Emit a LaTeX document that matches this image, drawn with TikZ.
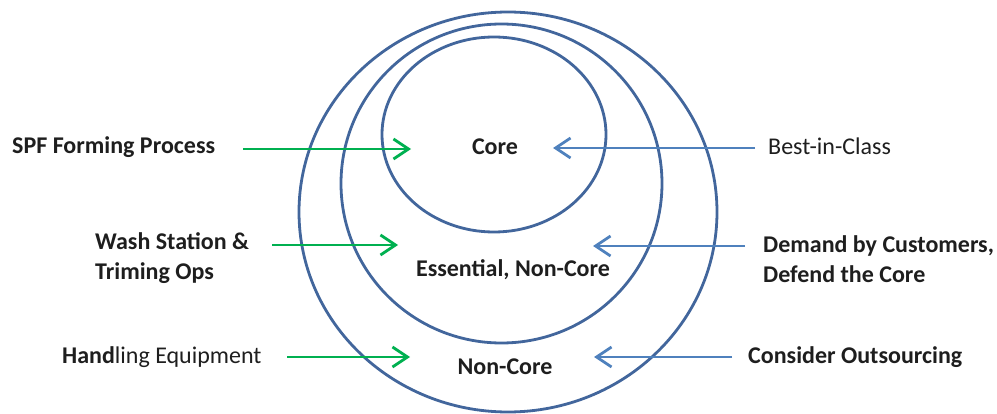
\documentclass[tikz,border=0pt]{standalone}
\usepackage{fontspec}
\setmainfont{Carlito}
\usetikzlibrary{arrows.meta}
\definecolor{ringblue}{RGB}{66,102,156}
\definecolor{pushgreen}{RGB}{0,176,80}
\definecolor{pullblue}{RGB}{79,129,189}
\definecolor{txt}{RGB}{30,30,30}
\tikzset{
  ring/.style={draw=ringblue, line width=2.8pt},
  lbl/.style={font=\fontsize{24}{30}\selectfont\bfseries, text=txt, inner sep=0pt},
  lblr/.style={font=\fontsize{24}{30}\selectfont, text=txt, inner sep=0pt},
  push/.style={draw=pushgreen, line width=2.8pt, -{Straight Barb[length=15pt,width=20pt,line width=2.8pt]}},
  pull/.style={draw=pullblue, line width=2.8pt, -{Straight Barb[length=15pt,width=20pt,line width=2.8pt]}}
}
\begin{document}
\begin{tikzpicture}[x=1pt,y=-1pt]
\useasboundingbox (0,0) rectangle (997,414);

% concentric rings
\draw[ring] (508,212) ellipse [x radius=209, y radius=200];
\draw[ring] (501.5,183.5) ellipse [x radius=160.5, y radius=159.5];
\draw[ring] (494,134.5) ellipse [x radius=112, y radius=97.5];

% ring labels
\node[lbl] (core) at (495,147) {Core};
\node[lbl] (ess) at (513,270) {Essential, Non-Core};
\node[lbl] (non) at (505,367) {Non-Core};

% left-hand items
\node[lbl, anchor=west] (spf) at (12,147) {SPF Forming Process};
\node[lbl, anchor=west, align=left] (wash) at (95,258) {Wash Station \&\\Triming Ops};
\node[lblr, anchor=west] (hand) at (62,357) {\textbf{Hand}ling Equipment};

% right-hand items
\node[lblr, anchor=west] (bic) at (768,146) {Best-in-Class};
\node[lbl, anchor=west, align=left] (dem) at (763,259) {Demand by Customers,\\Defend the Core};
\node[lbl, anchor=west] (out) at (748,357) {Consider Outsourcing};

% arrow end points
\coordinate (g1s) at (243,149); \coordinate (g1e) at (411,149);
\coordinate (g2s) at (272,245); \coordinate (g2e) at (398,245);
\coordinate (g3s) at (287,357); \coordinate (g3e) at (410,357);
\coordinate (b1s) at (755,148); \coordinate (b1e) at (553,148);
\coordinate (b2s) at (745,246); \coordinate (b2e) at (593,246);
\coordinate (b3s) at (732,357); \coordinate (b3e) at (594,357);

\draw[push] (g1s) -- (g1e);
\draw[push] (g2s) -- (g2e);
\draw[push] (g3s) -- (g3e);
\draw[pull] (b1s) -- (b1e);
\draw[pull] (b2s) -- (b2e);
\draw[pull] (b3s) -- (b3e);
\end{tikzpicture}
\end{document}
